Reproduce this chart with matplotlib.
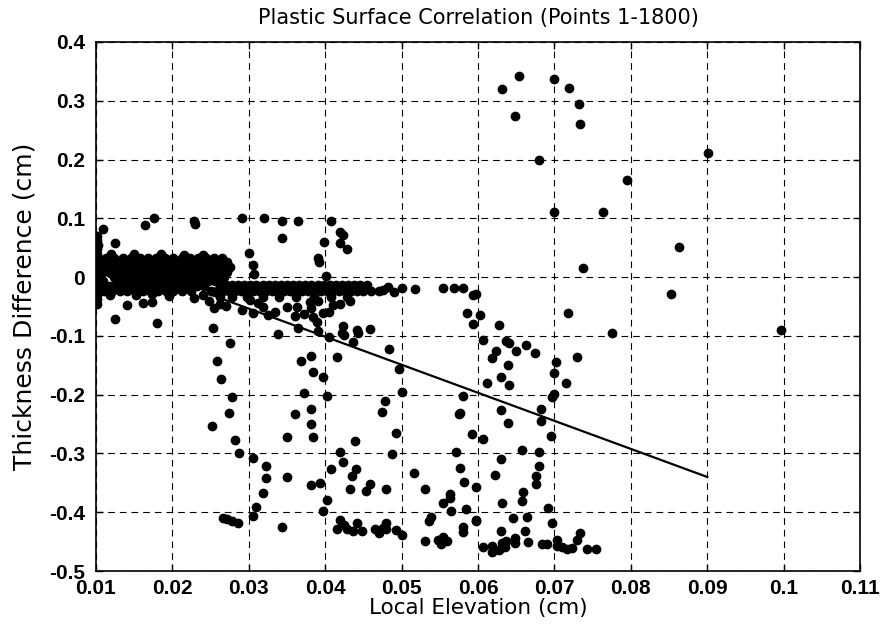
import matplotlib
matplotlib.use("Agg")
import matplotlib.pyplot as plt

plt.rcParams['font.family'] = ['Liberation Sans', 'DejaVu Sans']

# ---------------- data ----------------
title = "Plastic Surface Correlation (Points 1-1800)"
xlabel = "Local Elevation (cm)"
ylabel = "Thickness Difference (cm)"
xticks = [0.01, 0.02, 0.03, 0.04, 0.05, 0.06, 0.07, 0.08, 0.09, 0.1, 0.11]
xticklabels = ["0.01", "0.02", "0.03", "0.04", "0.05", "0.06", "0.07", "0.08", "0.09", "0.1", "0.11"]
yticks = [-0.5, -0.4, -0.3, -0.2, -0.1, 0, 0.1, 0.2, 0.3, 0.4]
yticklabels = ["-0.5", "-0.4", "-0.3", "-0.2", "-0.1", "0", "0.1", "0.2", "0.3", "0.4"]

# fitted regression line (end points)
fit_x = [0.024, 0.090]
fit_y = [-0.025, -0.340]

# dense cluster near zero (rows: y value, x positions)
cluster_rows = [
    (0.033, [0.0103, 0.0113, 0.0124, 0.0135, 0.0146, 0.0157, 0.0168, 0.0179, 0.0190, 0.0201,
             0.0212, 0.0223, 0.0233, 0.0244, 0.0255, 0.0265]),
    (0.025, [0.0101, 0.0109, 0.0117, 0.0125, 0.0133, 0.0141, 0.0149, 0.0157, 0.0165, 0.0173,
             0.0181, 0.0189, 0.0197, 0.0205, 0.0213, 0.0221, 0.0229, 0.0237, 0.0245, 0.0253,
             0.0262, 0.0272]),
    (0.017, [0.0104, 0.0112, 0.0120, 0.0128, 0.0136, 0.0144, 0.0152, 0.0160, 0.0168, 0.0176,
             0.0184, 0.0192, 0.0200, 0.0208, 0.0216, 0.0224, 0.0232, 0.0240, 0.0248, 0.0257,
             0.0266, 0.0276]),
    (0.009, [0.0101, 0.0109, 0.0117, 0.0125, 0.0133, 0.0141, 0.0149, 0.0157, 0.0165, 0.0173,
             0.0181, 0.0189, 0.0197, 0.0205, 0.0213, 0.0221, 0.0229, 0.0237, 0.0245, 0.0254,
             0.0263, 0.0271]),
    (0.001, [0.0103, 0.0124, 0.0132, 0.0140, 0.0148, 0.0156, 0.0164, 0.0172, 0.0180, 0.0188,
             0.0196, 0.0204, 0.0212, 0.0220, 0.0228, 0.0236, 0.0244, 0.0252, 0.0260, 0.0268]),
    (-0.007, [0.0101, 0.0109, 0.0127, 0.0135, 0.0143, 0.0151, 0.0159, 0.0167, 0.0175, 0.0183,
              0.0191, 0.0199, 0.0207, 0.0215, 0.0223, 0.0231, 0.0239, 0.0247, 0.0256]),
    (-0.015, [0.0102, 0.0110, 0.0118, 0.0126, 0.0134, 0.0142, 0.0150, 0.0158, 0.0166, 0.0174,
              0.0182, 0.0190, 0.0198, 0.0206, 0.0214, 0.0222, 0.0232, 0.0242]),
    (-0.023, [0.0101, 0.0111, 0.0121, 0.0131, 0.0141, 0.0151, 0.0161, 0.0171, 0.0181, 0.0191,
              0.0201, 0.0213, 0.0225]),
]
cluster_edge = [(0.0118, -0.030), (0.0152, -0.031), (0.0173, -0.029), (0.0196, -0.032),
                (0.0228, -0.035), (0.0240, -0.030), (0.0120, 0.040), (0.0150, 0.040),
                (0.0185, 0.039), (0.0215, 0.038), (0.0240, 0.037)]

# horizontal band at about -0.02
band_rows = [
    (-0.013, [0.0262, 0.0270, 0.0278, 0.0286, 0.0294, 0.0302, 0.0310, 0.0318, 0.0326, 0.0334,
              0.0342, 0.0350, 0.0358, 0.0366, 0.0374, 0.0382, 0.0390, 0.0398, 0.0406, 0.0414,
              0.0422, 0.0430, 0.0438, 0.0446, 0.0455]),
    (-0.024, [0.0250, 0.0258, 0.0266, 0.0274, 0.0282, 0.0290, 0.0298, 0.0306, 0.0314, 0.0322,
              0.0330, 0.0338, 0.0346, 0.0354, 0.0362, 0.0370, 0.0378, 0.0386, 0.0394, 0.0402,
              0.0410, 0.0418, 0.0426, 0.0434, 0.0442, 0.0450, 0.0460, 0.0470]),
    (-0.034, [0.0262, 0.0278, 0.0298, 0.0318, 0.0340, 0.0362, 0.0385, 0.0408, 0.0428]),
]
band_tail = [(0.0475, -0.022), (0.0482, -0.017), (0.0490, -0.026), (0.0501, -0.019),
             (0.0518, -0.020), (0.0554, -0.019), (0.0569, -0.019), (0.0580, -0.019),
             (0.0594, -0.031), (0.0597, -0.029)]

upper_pts = [(0.0176, 0.100), (0.0164, 0.088), (0.0228, 0.095), (0.0229, 0.091), (0.0291, 0.100),
             (0.0320, 0.100), (0.0344, 0.095), (0.0365, 0.095), (0.0407, 0.095), (0.0344, 0.066),
             (0.0420, 0.076), (0.0423, 0.072), (0.0398, 0.060), (0.0419, 0.058), (0.0428, 0.048),
             (0.0391, 0.032), (0.0392, 0.026), (0.0401, 0.002), (0.0300, 0.041), (0.0305, 0.020),
             (0.0307, 0.005), (0.0109, 0.082), (0.0125, 0.058), (0.0101, 0.070), (0.0101, 0.063),
             (0.0102, 0.055), (0.0101, 0.047), (0.0101, 0.040), (0.0101, -0.031), (0.0101, -0.038),
             (0.0101, -0.046)]

top_right_pts = [(0.0631, 0.320), (0.0654, 0.342), (0.0649, 0.274), (0.0700, 0.337), (0.0719, 0.321),
                 (0.0732, 0.294), (0.0734, 0.260), (0.0680, 0.199), (0.0901, 0.211), (0.0795, 0.165),
                 (0.0700, 0.111), (0.0764, 0.111), (0.0863, 0.051), (0.0738, 0.015), (0.0853, -0.029),
                 (0.0997, -0.090), (0.0776, -0.095), (0.0718, -0.061)]

near_line_pts = [(0.0141, -0.047), (0.0161, -0.044), (0.0173, -0.042), (0.0125, -0.071), (0.0180, -0.078),
                 (0.0253, -0.087), (0.0275, -0.112), (0.0291, -0.056), (0.0305, -0.061), (0.0301, -0.039),
                 (0.0312, -0.044), (0.0318, -0.051), (0.0325, -0.065), (0.0334, -0.060), (0.0338, -0.097),
                 (0.0262, -0.045), (0.0270, -0.050), (0.0248, -0.040), (0.0255, -0.052),
                 (0.0350, -0.051), (0.0363, -0.051), (0.0360, -0.066), (0.0372, -0.063), (0.0382, -0.053),
                 (0.0384, -0.068), (0.0389, -0.077), (0.0397, -0.061), (0.0405, -0.060), (0.0410, -0.048),
                 (0.0365, -0.087), (0.0390, -0.092), (0.0405, -0.102), (0.0423, -0.083), (0.0422, -0.095),
                 (0.0425, -0.099), (0.0436, -0.110), (0.0442, -0.090), (0.0443, -0.095), (0.0459, -0.088),
                 (0.0391, -0.040), (0.0380, -0.042), (0.0420, -0.045), (0.0433, -0.040)]

middle_pts = [(0.0483, -0.122), (0.0368, -0.143), (0.0382, -0.134), (0.0416, -0.136), (0.0384, -0.162),
              (0.0397, -0.170), (0.0496, -0.157), (0.0372, -0.197), (0.0403, -0.202), (0.0501, -0.196),
              (0.0478, -0.211), (0.0474, -0.230), (0.0575, -0.233), (0.0361, -0.233), (0.0381, -0.224),
              (0.0381, -0.250), (0.0384, -0.272), (0.0350, -0.272), (0.0439, -0.279), (0.0493, -0.266),
              (0.0419, -0.298), (0.0423, -0.315), (0.0488, -0.301), (0.0571, -0.298), (0.0408, -0.327),
              (0.0440, -0.327), (0.0435, -0.338), (0.0516, -0.333), (0.0350, -0.340), (0.0381, -0.354),
              (0.0393, -0.350), (0.0458, -0.352), (0.0454, -0.364), (0.0433, -0.361), (0.0480, -0.361),
              (0.0531, -0.361), (0.0563, -0.369), (0.0563, -0.376), (0.0554, -0.384), (0.0402, -0.379),
              (0.0397, -0.398), (0.0565, -0.398), (0.0539, -0.408), (0.0536, -0.415), (0.0598, -0.415),
              (0.0344, -0.425), (0.0419, -0.413), (0.0415, -0.429), (0.0425, -0.422), (0.0429, -0.429),
              (0.0436, -0.432), (0.0442, -0.418), (0.0448, -0.432), (0.0465, -0.429), (0.0470, -0.436),
              (0.0475, -0.427), (0.0480, -0.418), (0.0479, -0.429), (0.0493, -0.430), (0.0500, -0.439),
              (0.0531, -0.449), (0.0548, -0.447), (0.0554, -0.442), (0.0559, -0.449), (0.0551, -0.454)]

left_arc_pts = [(0.0258, -0.143), (0.0263, -0.173), (0.0278, -0.204), (0.0274, -0.231), (0.0252, -0.253),
                (0.0282, -0.277), (0.0287, -0.299), (0.0305, -0.308), (0.0322, -0.321), (0.0322, -0.342),
                (0.0318, -0.367), (0.0310, -0.391), (0.0305, -0.406), (0.0266, -0.410), (0.0271, -0.412),
                (0.0278, -0.415), (0.0286, -0.418)]

right_pts = [(0.0586, -0.061), (0.0603, -0.065), (0.0594, -0.080), (0.0627, -0.082), (0.0606, -0.107),
             (0.0640, -0.112), (0.0637, -0.108), (0.0623, -0.126), (0.0618, -0.138), (0.0650, -0.126),
             (0.0663, -0.116), (0.0675, -0.129), (0.0729, -0.136), (0.0702, -0.145), (0.0639, -0.150),
             (0.0699, -0.163), (0.0630, -0.170), (0.0612, -0.180), (0.0641, -0.184), (0.0715, -0.180),
             (0.0581, -0.202), (0.0700, -0.199), (0.0697, -0.204), (0.0576, -0.231), (0.0630, -0.226),
             (0.0683, -0.224), (0.0639, -0.248), (0.0683, -0.245), (0.0592, -0.267), (0.0606, -0.276),
             (0.0696, -0.270), (0.0657, -0.294), (0.0680, -0.298), (0.0630, -0.310), (0.0680, -0.321),
             (0.0576, -0.325), (0.0622, -0.337), (0.0676, -0.338), (0.0582, -0.349), (0.0676, -0.352),
             (0.0597, -0.357), (0.0659, -0.365), (0.0657, -0.381), (0.0631, -0.385), (0.0584, -0.395),
             (0.0692, -0.393), (0.0646, -0.410), (0.0664, -0.408), (0.0597, -0.414), (0.0697, -0.418),
             (0.0581, -0.425), (0.0581, -0.434), (0.0630, -0.432), (0.0662, -0.432), (0.0733, -0.436),
             (0.0729, -0.447), (0.0606, -0.459), (0.0618, -0.457), (0.0618, -0.467), (0.0628, -0.465),
             (0.0631, -0.452), (0.0635, -0.459), (0.0637, -0.449), (0.0648, -0.444), (0.0649, -0.452),
             (0.0666, -0.451), (0.0684, -0.454), (0.0690, -0.454), (0.0703, -0.447), (0.0703, -0.457),
             (0.0710, -0.459), (0.0716, -0.463), (0.0723, -0.461), (0.0743, -0.463), (0.0755, -0.463)]

# ---------------- assemble ----------------
xs, ys = [], []
for yv, xlist in cluster_rows + band_rows:
    for xv in xlist:
        xs.append(xv)
        ys.append(yv)
for group in (cluster_edge, band_tail, upper_pts, top_right_pts, near_line_pts,
              middle_pts, left_arc_pts, right_pts):
    for xv, yv in group:
        xs.append(xv)
        ys.append(yv)

# ---------------- plot ----------------
fig = plt.figure(figsize=(8.83, 6.36), dpi=100)
ax = fig.add_axes([0.1087, 0.1022, 0.8653, 0.8318])

ax.plot(xs, ys, linestyle='none', marker='o', markersize=6,
        markerfacecolor='black', markeredgecolor='black', zorder=3)
ax.plot(fit_x, fit_y, color='black', linewidth=1.6, zorder=4)

ax.set_xlim(0.01, 0.11)
ax.set_ylim(-0.5, 0.4)
ax.set_xticks(xticks)
ax.set_yticks(yticks)
ax.set_xticklabels(xticklabels, fontsize=15, fontweight='bold')
ax.set_yticklabels(yticklabels, fontsize=15, fontweight='bold')

ax.grid(True, color='black', linestyle=(0, (6, 4.5)), linewidth=0.8)
ax.set_axisbelow(True)
ax.tick_params(direction='in', length=5, width=1, top=True, right=True)
ax.tick_params(axis='x', pad=5.5)
ax.tick_params(axis='y', pad=8)
for sp in ax.spines.values():
    sp.set_linewidth(1.2)

ax.set_title(title, fontsize=15, pad=13, family=['DejaVu Sans'])
ax.set_xlabel(xlabel, fontsize=15.5, labelpad=0, family=['DejaVu Sans'])
ax.set_ylabel(ylabel, fontsize=18, labelpad=9, family=['DejaVu Sans'])

fig.savefig("out.png", dpi=100)
